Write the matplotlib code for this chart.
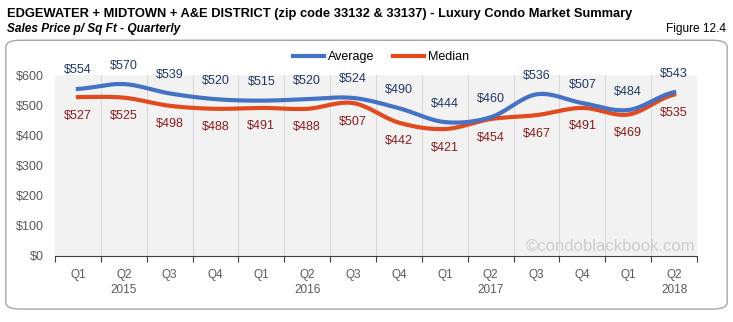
import numpy as np
import matplotlib
matplotlib.use("Agg")
from matplotlib import pyplot as plt
from matplotlib.patches import FancyBboxPatch

quarters = ["Q1", "Q2", "Q3", "Q4", "Q1", "Q2", "Q3", "Q4", "Q1", "Q2", "Q3", "Q4", "Q1", "Q2"]
years = ["2015", "2016", "2017", "2018"]
year_pos = [1, 5, 9, 13]
average = [554, 570, 539, 520, 515, 520, 524, 490, 444, 460, 536, 507, 484, 543]
median = [527, 525, 498, 488, 491, 488, 507, 442, 421, 454, 467, 491, 469, 535]

blue = "#4472C4"
red = "#E04A1E"
plt.rcParams['font.family'] = ['Liberation Sans', 'DejaVu Sans']


def smooth(y, steps=20):
    # catmull-rom curve through the points, like excel's smoothed line
    y = np.asarray(y, float)
    p = np.concatenate([[y[0]], y, [y[-1]]])
    xs, ys = [], []
    for i in range(len(y) - 1):
        t = np.linspace(0, 1, steps, endpoint=False)
        p0, p1, p2, p3 = p[i], p[i + 1], p[i + 2], p[i + 3]
        yy = 0.5 * ((2 * p1) + (-p0 + p2) * t + (2 * p0 - 5 * p1 + 4 * p2 - p3) * t ** 2
                    + (-p0 + 3 * p1 - 3 * p2 + p3) * t ** 3)
        xs.extend(i + t)
        ys.extend(yy)
    xs.append(len(y) - 1)
    ys.append(y[-1])
    return np.array(xs), np.array(ys)


fig = plt.figure(figsize=(7.33, 3.22), dpi=100)
box = FancyBboxPatch((0.008, 0.04), 0.984, 0.835, boxstyle="round,pad=0,rounding_size=0.02",
                     transform=fig.transFigure, fc="white", ec="#A6A6A6", lw=1, zorder=-5)
fig.patches.append(box)

fig.text(0.009, 0.958, "EDGEWATER + MIDTOWN + A&E DISTRICT (zip code 33132 & 33137) - Luxury Condo Market Summary",
         fontsize=9.3, fontweight="bold", va="center", ha="left")
fig.text(0.009, 0.91, "Sales Price p/ Sq Ft - Quarterly", fontsize=8.6, fontweight="bold", style="italic",
         va="center", ha="left")
fig.text(0.99, 0.91, "Figure 12.4", fontsize=8.6, va="center", ha="right")

ax = fig.add_axes([0.075, 0.205, 0.876, 0.562])
ax.set_facecolor("#F2F2F2")
x = np.arange(len(quarters))
for b in np.arange(0.5, len(quarters) - 0.5, 1):
    ax.axvline(b, color="#D9D9D9", lw=0.8, zorder=0)

xa, ya = smooth(average)
xm, ym = smooth(median)
ax.plot(xa, ya, color=blue, lw=3, label="Average", zorder=3)
ax.plot(xm, ym, color=red, lw=3, label="Median", zorder=2)

for i in x:
    ax.annotate(f"${average[i]}", (i, average[i]), xytext=(0, 9), textcoords="offset points",
                ha="center", va="bottom", fontsize=9, color="#1F3864")
    ax.annotate(f"${median[i]}", (i, median[i]), xytext=(0, -9), textcoords="offset points",
                ha="center", va="top", fontsize=9, color="#8B1A1A")

ax.set_xlim(-0.5, len(quarters) - 0.5)
ax.set_ylim(0, 600)
ax.set_yticks(range(0, 700, 100))
ax.set_yticklabels([f"${v}" for v in range(0, 700, 100)])
ax.set_xticks(np.arange(-0.5, len(quarters), 1))
ax.set_xticklabels([])
ax.tick_params(axis="x", length=4, color="#404040", direction="out")
ax.tick_params(axis="y", length=0, labelsize=9, labelcolor="#595959", pad=8)
for q_i, q in enumerate(quarters):
    ax.text(q_i, -0.105, q, transform=ax.get_xaxis_transform(), ha="center", va="center",
            fontsize=8.5, color="#595959")
for yp, yl in zip(year_pos, years):
    ax.text(yp, -0.19, yl, transform=ax.get_xaxis_transform(), ha="center", va="center",
            fontsize=8.5, color="#595959")
for s in ["top", "right", "left"]:
    ax.spines[s].set_visible(False)
ax.spines["bottom"].set_color("#404040")

ax.text(0.997, 0.01, "\u00a9condoblackbook.com", transform=ax.transAxes, ha="right", va="bottom",
        fontsize=12, color="#CDCDCD", zorder=1)

fig.legend(loc="center", bbox_to_anchor=(0.52, 0.823), ncol=2, frameon=False, fontsize=9,
           handlelength=2.5, columnspacing=1.5, handletextpad=0.3)

fig.savefig("out.png", dpi=100)
